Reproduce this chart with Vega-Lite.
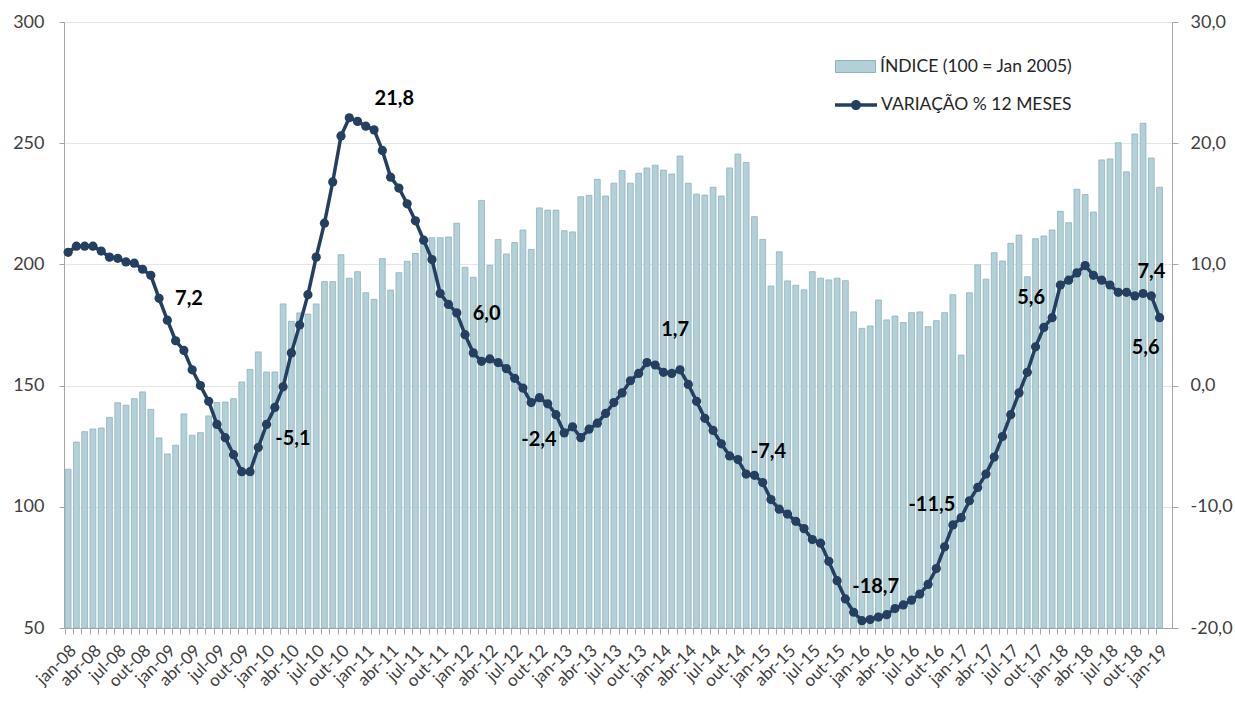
{
  "$schema": "https://vega.github.io/schema/vega-lite/v6.json",
  "width": 1108,
  "height": 606,
  "autosize": {"type": "none"},
  "padding": {"left": 64, "top": 22, "right": 63, "bottom": 74},
  "background": "white",
  "config": {"view": {"stroke": null}, "font": "Lato"},
  "data": {"values": [
    {"m":"jan-08","idx":115.5,"var":11.0},{"m":"fev-08","idx":126.7,"var":11.5},{"m":"mar-08","idx":131.0,"var":11.5},{"m":"abr-08","idx":132.1,"var":11.5},
    {"m":"mai-08","idx":132.5,"var":11.1},{"m":"jun-08","idx":136.9,"var":10.6},{"m":"jul-08","idx":142.9,"var":10.5},{"m":"ago-08","idx":141.9,"var":10.2},
    {"m":"set-08","idx":144.6,"var":10.1},{"m":"out-08","idx":147.4,"var":9.6},{"m":"nov-08","idx":140.2,"var":9.1},{"m":"dez-08","idx":128.4,"var":7.2,"lbl":"7,2"},
    {"m":"jan-09","idx":121.8,"var":5.4},{"m":"fev-09","idx":125.4,"var":3.7},{"m":"mar-09","idx":138.3,"var":2.9},{"m":"abr-09","idx":129.5,"var":1.3},
    {"m":"mai-09","idx":130.6,"var":0.0},{"m":"jun-09","idx":137.5,"var":-1.3},{"m":"jul-09","idx":143.0,"var":-3.2},{"m":"ago-09","idx":143.2,"var":-4.3},
    {"m":"set-09","idx":144.6,"var":-5.7},{"m":"out-09","idx":151.5,"var":-7.1},{"m":"nov-09","idx":156.7,"var":-7.1},{"m":"dez-09","idx":163.9,"var":-5.1,"lbl":"-5,1"},
    {"m":"jan-10","idx":155.6,"var":-3.2},{"m":"fev-10","idx":155.6,"var":-1.8},{"m":"mar-10","idx":183.7,"var":-0.1},{"m":"abr-10","idx":176.5,"var":2.7},
    {"m":"mai-10","idx":180.0,"var":5.0},{"m":"jun-10","idx":179.5,"var":7.5},{"m":"jul-10","idx":183.7,"var":10.6},{"m":"ago-10","idx":192.9,"var":13.4},
    {"m":"set-10","idx":192.9,"var":16.8},{"m":"out-10","idx":204.0,"var":20.6},{"m":"nov-10","idx":194.3,"var":22.1},{"m":"dez-10","idx":197.0,"var":21.8,"lbl":"21,8"},
    {"m":"jan-11","idx":188.3,"var":21.4},{"m":"fev-11","idx":185.6,"var":21.1},{"m":"mar-11","idx":202.4,"var":19.4},{"m":"abr-11","idx":189.4,"var":17.2},
    {"m":"mai-11","idx":196.6,"var":16.3},{"m":"jun-11","idx":201.3,"var":15.0},{"m":"jul-11","idx":204.5,"var":13.6},{"m":"ago-11","idx":210.3,"var":12.0},
    {"m":"set-11","idx":211.0,"var":10.4},{"m":"out-11","idx":211.0,"var":7.6},{"m":"nov-11","idx":211.3,"var":6.7},{"m":"dez-11","idx":217.0,"var":6.0,"lbl":"6,0"},
    {"m":"jan-12","idx":198.8,"var":4.2},{"m":"fev-12","idx":194.7,"var":2.7},{"m":"mar-12","idx":226.4,"var":2.0},{"m":"abr-12","idx":199.6,"var":2.2},
    {"m":"mai-12","idx":210.3,"var":1.9},{"m":"jun-12","idx":204.3,"var":1.4},{"m":"jul-12","idx":209.0,"var":0.6},{"m":"ago-12","idx":214.2,"var":-0.2},
    {"m":"set-12","idx":206.2,"var":-1.4},{"m":"out-12","idx":223.3,"var":-1.0},{"m":"nov-12","idx":222.4,"var":-1.5},{"m":"dez-12","idx":222.4,"var":-2.4,"lbl":"-2,4"},
    {"m":"jan-13","idx":213.9,"var":-3.9},{"m":"fev-13","idx":213.4,"var":-3.4},{"m":"mar-13","idx":227.9,"var":-4.3},{"m":"abr-13","idx":228.5,"var":-3.6},
    {"m":"mai-13","idx":235.1,"var":-3.1},{"m":"jun-13","idx":228.2,"var":-2.3},{"m":"jul-13","idx":233.5,"var":-1.4},{"m":"ago-13","idx":238.7,"var":-0.6},
    {"m":"set-13","idx":233.5,"var":0.4},{"m":"out-13","idx":237.6,"var":1.0},{"m":"nov-13","idx":239.8,"var":1.9},{"m":"dez-13","idx":240.9,"var":1.7,"lbl":"1,7"},
    {"m":"jan-14","idx":238.9,"var":1.1},{"m":"fev-14","idx":237.3,"var":1.0},{"m":"mar-14","idx":244.7,"var":1.3},{"m":"abr-14","idx":233.5,"var":0.1},
    {"m":"mai-14","idx":229.0,"var":-1.3},{"m":"jun-14","idx":228.6,"var":-2.7},{"m":"jul-14","idx":231.8,"var":-3.7},{"m":"ago-14","idx":228.2,"var":-4.8},
    {"m":"set-14","idx":239.8,"var":-5.8},{"m":"out-14","idx":245.5,"var":-6.1},{"m":"nov-14","idx":242.0,"var":-7.3},{"m":"dez-14","idx":219.7,"var":-7.4,"lbl":"-7,4"},
    {"m":"jan-15","idx":210.3,"var":-8.0},{"m":"fev-15","idx":191.1,"var":-9.4},{"m":"mar-15","idx":205.2,"var":-10.2},{"m":"abr-15","idx":193.2,"var":-10.6},
    {"m":"mai-15","idx":191.4,"var":-11.2},{"m":"jun-15","idx":189.5,"var":-11.8},{"m":"jul-15","idx":197.0,"var":-12.7},{"m":"ago-15","idx":194.3,"var":-13.0},
    {"m":"set-15","idx":193.6,"var":-14.5},{"m":"out-15","idx":194.3,"var":-16.1},{"m":"nov-15","idx":193.3,"var":-17.6},{"m":"dez-15","idx":180.4,"var":-18.7,"lbl":"-18,7"},
    {"m":"jan-16","idx":173.6,"var":-19.4},{"m":"fev-16","idx":174.6,"var":-19.3},{"m":"mar-16","idx":185.3,"var":-19.1},{"m":"abr-16","idx":177.1,"var":-18.9},
    {"m":"mai-16","idx":178.7,"var":-18.4},{"m":"jun-16","idx":176.0,"var":-18.1},{"m":"jul-16","idx":180.1,"var":-17.7},{"m":"ago-16","idx":180.4,"var":-17.2},
    {"m":"set-16","idx":174.3,"var":-16.4},{"m":"out-16","idx":176.8,"var":-15.1},{"m":"nov-16","idx":180.1,"var":-13.3},{"m":"dez-16","idx":187.5,"var":-11.5,"lbl":"-11,5"},
    {"m":"jan-17","idx":162.6,"var":-10.9},{"m":"fev-17","idx":188.3,"var":-9.5},{"m":"mar-17","idx":199.8,"var":-8.4},{"m":"abr-17","idx":193.9,"var":-7.3},
    {"m":"mai-17","idx":204.8,"var":-5.9},{"m":"jun-17","idx":201.4,"var":-4.2},{"m":"jul-17","idx":208.7,"var":-2.4},{"m":"ago-17","idx":212.1,"var":-0.6},
    {"m":"set-17","idx":194.9,"var":1.1},{"m":"out-17","idx":210.6,"var":3.2},{"m":"nov-17","idx":211.7,"var":4.8},{"m":"dez-17","idx":214.2,"var":5.6,"lbl":"5,6"},
    {"m":"jan-18","idx":221.9,"var":8.3},{"m":"fev-18","idx":217.2,"var":8.7},{"m":"mar-18","idx":231.0,"var":9.3},{"m":"abr-18","idx":228.8,"var":9.9},
    {"m":"mai-18","idx":221.6,"var":9.1},{"m":"jun-18","idx":243.1,"var":8.7},{"m":"jul-18","idx":243.5,"var":8.3},{"m":"ago-18","idx":250.2,"var":7.7},
    {"m":"set-18","idx":238.2,"var":7.7},{"m":"out-18","idx":253.8,"var":7.4},{"m":"nov-18","idx":258.2,"var":7.6},{"m":"dez-18","idx":243.9,"var":7.4,"lbl":"7,4"},
    {"m":"jan-19","idx":231.8,"var":5.6,"lbl":"5,6"}
  ]},
  "resolve": {"scale": {"y": "independent"}},
  "layer": [
    {
      "mark": {"type": "bar", "stroke": "#90b2bb", "strokeWidth": 0.8, "clip": true},
      "encoding": {
        "x": {"field": "m", "type": "nominal", "sort": null,
          "scale": {"paddingInner": 0.3, "paddingOuter": 0.65, "align": 0.115},
          "axis": {"title": null, "labelAngle": -45, "labelFont": "Lato", "labelFontSize": 17, "labelColor": "#404040",
            "labelExpr": "indexof(['jan','abr','jul','out'], slice(datum.value,0,3)) >= 0 ? datum.value : ''",
            "labelOverlap": false, "bandPosition": 0, "tickSize": 6, "tickColor": "#a6a6a6", "domainColor": "#a6a6a6", "labelPadding": 8}},
        "y": {"field": "idx", "type": "quantitative",
          "scale": {"domain": [50, 300], "nice": false, "zero": false},
          "axis": {"title": null, "orient": "left", "values": [50,100,150,200,250,300], "grid": true, "gridColor": "#e6e6e6",
            "domainColor": "#a6a6a6", "tickColor": "#a6a6a6", "tickSize": 5, "labelPadding": 15,
            "labelFont": "Lato", "labelFontSize": 18, "labelColor": "#404040"}},
        "y2": {"datum": 50},
        "fill": {"datum": "ÍNDICE (100 = Jan 2005)", "scale": {"range": ["#b3d0d8"]},
          "legend": {"title": null, "orient": "none", "legendX": 771, "legendY": 24, "padding": 0, "labelLimit": 400,
            "symbolType": "M-1,-0.3H1V0.3H-1Z", "symbolSize": 1600, "symbolStrokeColor": "#90b2bb", "symbolStrokeWidth": 1,
            "labelFont": "Lato", "labelFontSize": 17.5, "labelColor": "#262626", "labelOffset": 4}}
      }
    },
    {
      "layer": [
        {
          "mark": {"type": "line", "strokeWidth": 3.5, "point": {"filled": true, "size": 85}},
          "encoding": {
            "x": {"field": "m", "type": "nominal", "sort": null},
            "y": {"field": "var", "type": "quantitative",
              "scale": {"domain": [-20, 30], "nice": false, "zero": false},
              "axis": {"title": null, "orient": "right", "values": [-20,-10,0,10,20,30], "grid": false,
                "labelExpr": "replace(replace(format(datum.value,'.1f'),'.',','),'\u2212','-')",
                "domainColor": "#a6a6a6", "tickColor": "#a6a6a6", "tickSize": 6, "labelPadding": 12,
                "labelFont": "Lato", "labelFontSize": 18, "labelColor": "#404040"}},
            "color": {"datum": "VARIAÇÃO % 12 MESES", "scale": {"range": ["#243f60"]},
              "legend": {"title": null, "orient": "none", "legendX": 771, "legendY": 62, "padding": 0, "labelLimit": 400,
                "symbolType": "M-1,-0.08H1V0.08H-1Z M0.24,0A0.24,0.24 0 1,1 -0.24,0A0.24,0.24 0 1,1 0.24,0Z",
                "symbolSize": 1764, "symbolFillColor": "#243f60", "symbolStrokeColor": "#243f60", "symbolStrokeWidth": 0,
                "labelFont": "Lato", "labelFontSize": 17.5, "labelColor": "#262626", "labelOffset": 4,
                "encode": {"symbols": {"update": {"fill": {"value": "#243f60"}, "stroke": {"value": "#243f60"}, "strokeWidth": {"value": 0}}}}}}
          }
        },
        {
          "mark": {"type": "text", "align": "left", "baseline": "middle", "dx": 16, "dy": 1, "fontSize": 20, "fontWeight": "bold", "color": "#000000"},
          "encoding": {"x": {"field": "m", "type": "nominal", "sort": null}, "y": {"field": "var", "type": "quantitative"},
            "text": {"condition": {"test": "datum.m === 'dez-08' || datum.m === 'dez-11'", "field": "lbl"}, "value": ""}}
        },
        {
          "mark": {"type": "text", "align": "left", "baseline": "middle", "dx": 17, "dy": -8, "fontSize": 20, "fontWeight": "bold", "color": "#000000"},
          "encoding": {"x": {"field": "m", "type": "nominal", "sort": null}, "y": {"field": "var", "type": "quantitative"},
            "text": {"condition": {"test": "datum.m === 'dez-09'", "field": "lbl"}, "value": ""}}
        },
        {
          "mark": {"type": "text", "align": "left", "baseline": "middle", "dx": 17, "dy": -22, "fontSize": 20, "fontWeight": "bold", "color": "#000000"},
          "encoding": {"x": {"field": "m", "type": "nominal", "sort": null}, "y": {"field": "var", "type": "quantitative"},
            "text": {"condition": {"test": "datum.m === 'dez-10'", "field": "lbl"}, "value": ""}}
        },
        {
          "mark": {"type": "text", "align": "center", "baseline": "middle", "dx": -17, "dy": 25, "fontSize": 20, "fontWeight": "bold", "color": "#000000"},
          "encoding": {"x": {"field": "m", "type": "nominal", "sort": null}, "y": {"field": "var", "type": "quantitative"},
            "text": {"condition": {"test": "datum.m === 'dez-12'", "field": "lbl"}, "value": ""}}
        },
        {
          "mark": {"type": "text", "align": "center", "baseline": "middle", "dx": 20, "dy": -35, "fontSize": 20, "fontWeight": "bold", "color": "#000000"},
          "encoding": {"x": {"field": "m", "type": "nominal", "sort": null}, "y": {"field": "var", "type": "quantitative"},
            "text": {"condition": {"test": "datum.m === 'dez-13'", "field": "lbl"}, "value": ""}}
        },
        {
          "mark": {"type": "text", "align": "center", "baseline": "middle", "dx": 14, "dy": -23, "fontSize": 20, "fontWeight": "bold", "color": "#000000"},
          "encoding": {"x": {"field": "m", "type": "nominal", "sort": null}, "y": {"field": "var", "type": "quantitative"},
            "text": {"condition": {"test": "datum.m === 'dez-14'", "field": "lbl"}, "value": ""}}
        },
        {
          "mark": {"type": "text", "align": "center", "baseline": "middle", "dx": 22, "dy": -25, "fontSize": 20, "fontWeight": "bold", "color": "#000000"},
          "encoding": {"x": {"field": "m", "type": "nominal", "sort": null}, "y": {"field": "var", "type": "quantitative"},
            "text": {"condition": {"test": "datum.m === 'dez-15'", "field": "lbl"}, "value": ""}}
        },
        {
          "mark": {"type": "text", "align": "center", "baseline": "middle", "dx": -21, "dy": -20, "fontSize": 20, "fontWeight": "bold", "color": "#000000"},
          "encoding": {"x": {"field": "m", "type": "nominal", "sort": null}, "y": {"field": "var", "type": "quantitative"},
            "text": {"condition": {"test": "datum.m === 'dez-16' || datum.m === 'dez-17'", "field": "lbl"}, "value": ""}}
        },
        {
          "mark": {"type": "text", "align": "center", "baseline": "middle", "dx": 0, "dy": -24, "fontSize": 20, "fontWeight": "bold", "color": "#000000"},
          "encoding": {"x": {"field": "m", "type": "nominal", "sort": null}, "y": {"field": "var", "type": "quantitative"},
            "text": {"condition": {"test": "datum.m === 'dez-18'", "field": "lbl"}, "value": ""}}
        },
        {
          "mark": {"type": "text", "align": "center", "baseline": "middle", "dx": -14, "dy": 30, "fontSize": 20, "fontWeight": "bold", "color": "#000000"},
          "encoding": {"x": {"field": "m", "type": "nominal", "sort": null}, "y": {"field": "var", "type": "quantitative"},
            "text": {"condition": {"test": "datum.m === 'jan-19'", "field": "lbl"}, "value": ""}}
        }
      ]
    }
  ]
}
